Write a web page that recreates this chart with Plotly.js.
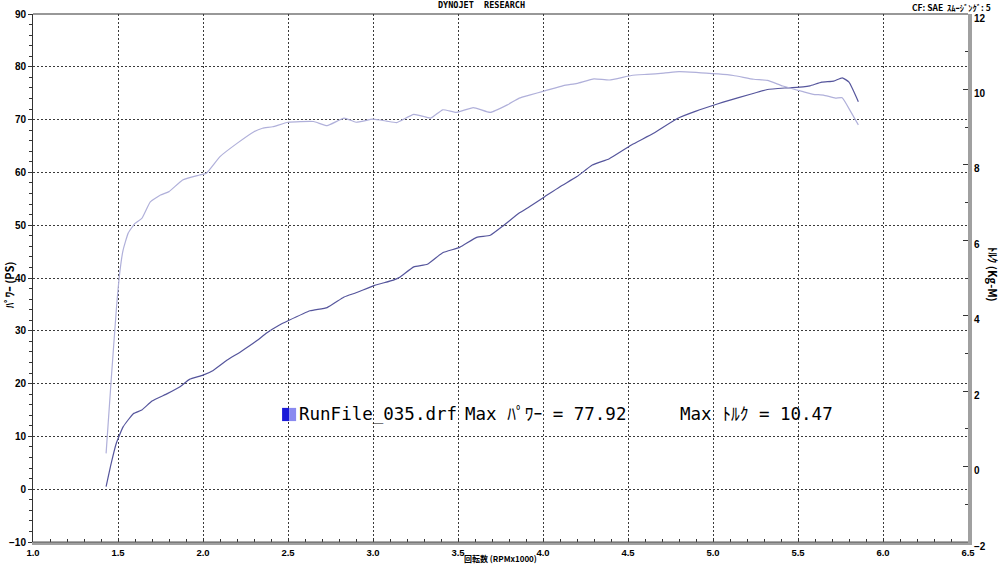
<!DOCTYPE html>
<html>
<head>
<meta charset="utf-8">
<script src="https://cdn.plot.ly/plotly-3.0.1.min.js"></script>
<style>html,body{margin:0;padding:0;background:#fff;}#chart{width:1000px;height:564px;}</style>
</head>
<body>
<div id="chart"></div>
<script>
// Power (PS) curve, left axis
const powerRpm = [1.43,1.46,1.49,1.53,1.59,1.64,1.70,1.79,1.865,1.92,2.00,2.06,2.14,2.22,2.32,2.37,2.45,2.50,2.63,2.73,2.83,2.90,3.01,3.12,3.16,3.24,3.32,3.41,3.51,3.61,3.69,3.77,3.86,3.92,4.01,4.10,4.20,4.29,4.39,4.52,4.65,4.79,4.90,5.03,5.08,5.22,5.32,5.43,5.53,5.57,5.64,5.71,5.76,5.80,5.855];
const powerPS = [0.5,4.9,8.7,11.8,14.3,15.0,16.7,18.1,19.4,20.8,21.6,22.5,24.4,26.0,28.2,29.5,31.1,31.9,33.8,34.4,36.4,37.2,38.6,39.6,40.2,42.1,42.6,44.8,45.8,47.7,48.1,50.0,52.3,53.5,55.4,57.3,59.2,61.4,62.6,65.2,67.4,70.2,71.6,73.0,73.5,74.8,75.7,76.0,76.2,76.4,77.1,77.3,77.92,77.1,73.4];
// Torque (Kg-M) curve, right axis
const torqueRpm = [1.43,1.46,1.49,1.51,1.53,1.56,1.60,1.64,1.69,1.75,1.80,1.88,1.98,2.02,2.10,2.20,2.30,2.35,2.41,2.50,2.65,2.73,2.83,2.90,3.00,3.08,3.14,3.24,3.34,3.41,3.49,3.59,3.69,3.79,3.86,3.92,4.01,4.12,4.20,4.30,4.39,4.52,4.61,4.71,4.80,4.90,4.96,5.03,5.12,5.24,5.32,5.41,5.53,5.59,5.65,5.72,5.76,5.81,5.855];
const torqueKgM = [0.35,2.30,4.15,5.13,5.74,6.19,6.45,6.58,7.02,7.20,7.29,7.60,7.73,7.78,8.22,8.57,8.88,8.97,9.01,9.13,9.15,9.04,9.24,9.13,9.21,9.16,9.12,9.34,9.24,9.46,9.39,9.52,9.39,9.59,9.77,9.85,9.96,10.10,10.16,10.28,10.25,10.37,10.40,10.43,10.47,10.45,10.43,10.41,10.37,10.27,10.24,10.09,9.94,9.87,9.85,9.77,9.78,9.41,9.06];

const runFile = "RunFile_035.drf";
const maxPower = 77.92;
const maxTorque = 10.47;
const xTickVals = [1.0,1.5,2.0,2.5,3.0,3.5,4.0,4.5,5.0,5.5,6.0,6.5];
const xTickText = ["1.0","1.5","2.0","2.5","3.0","3.5","4.0","4.5","5.0","5.5","6.0","6.5"];

const tickFont = {family: "Liberation Sans, Arial, sans-serif", size: 10, color: "#000", weight: "bold"};
const xTickFont = {family: "Liberation Sans, Arial, sans-serif", size: 9.5, color: "#000", weight: "bold"};
const jpFont = "Noto Sans CJK JP, sans-serif";
const monoJp = "DejaVu Sans Mono, Noto Sans CJK JP, monospace";
const gridDash = "2px,2px";

const traces = [
  {x: powerRpm, y: powerPS, type: "scatter", mode: "lines", yaxis: "y",
   line: {color: "#55559c", width: 1.2, shape: "spline", smoothing: 0.4}, hoverinfo: "skip"},
  {x: torqueRpm, y: torqueKgM, type: "scatter", mode: "lines", yaxis: "y2",
   line: {color: "#b0b0da", width: 1.2, shape: "spline", smoothing: 0.4}, hoverinfo: "skip"}
];

const layout = {
  width: 1000, height: 564,
  margin: {l: 33, r: 32, t: 14, b: 22},
  paper_bgcolor: "#fff", plot_bgcolor: "#fff",
  showlegend: false,
  xaxis: {
    range: [1.0, 6.5], tickvals: xTickVals, ticktext: xTickText,
    showgrid: true, gridcolor: "#3a3a3a", gridwidth: 1, griddash: gridDash,
    zeroline: false, showline: true, linecolor: "#a0a0a0", linewidth: 3,
    ticks: "inside", ticklen: 4, tickcolor: "#333", tickfont: xTickFont,
    minor: {dtick: 0.1, tick0: 1.0, ticks: "inside", ticklen: 3, tickcolor: "#333", showgrid: false},
    fixedrange: true
  },
  yaxis: {
    range: [-10, 90], dtick: 10, tick0: 0,
    showgrid: true, gridcolor: "#3a3a3a", gridwidth: 1, griddash: gridDash,
    zeroline: false, showline: true, linecolor: "#333", linewidth: 1,
    ticks: "outside", ticklen: 4, tickcolor: "#333", tickfont: tickFont,
    minor: {dtick: 2, tick0: 0, ticks: "outside", ticklen: 3, tickcolor: "#333", showgrid: false},
    fixedrange: true
  },
  yaxis2: {
    range: [-2, 12], dtick: 2, tick0: 0, overlaying: "y", side: "right",
    showgrid: false, zeroline: false, showline: true, linecolor: "#a0a0a0", linewidth: 4,
    ticks: "inside", ticklen: 5, tickcolor: "#333", tickfont: tickFont, ticklabelshift: 4,
    minor: {dtick: 1, tick0: 0, ticks: "inside", ticklen: 3, tickcolor: "#333", showgrid: false},
    fixedrange: true
  },
  yaxis3: {
    range: [-10, 90], dtick: 10, tick0: 0, overlaying: "y", side: "left",
    showgrid: false, zeroline: false, showline: false, showticklabels: false,
    ticks: "inside", ticklen: 4, tickcolor: "#333",
    minor: {dtick: 2, tick0: 0, ticks: "inside", ticklen: 3, tickcolor: "#333", showgrid: false},
    fixedrange: true
  },
  shapes: [
    {type: "line", xref: "paper", yref: "paper", x0: 0, x1: 1, y0: 1, y1: 1, line: {color: "#333", width: 1.2}},
    {type: "line", xref: "paper", yref: "paper", x0: 0, x1: 1, y0: 0, y1: 0, line: {color: "#555", width: 1}},
    {type: "rect", xref: "paper", yref: "paper", x0: 0.2664, x1: 0.2739, y0: 0.229, y1: 0.254, fillcolor: "#1a1ad8", line: {width: 0}},
    {type: "rect", xref: "paper", yref: "paper", x0: 0.2739, x1: 0.2814, y0: 0.229, y1: 0.254, fillcolor: "#8a8af0", line: {width: 0}}
  ],
  annotations: [
    {text: "DYNOJET  RESEARCH", xref: "paper", yref: "paper", x: 0.480, y: 1.0165, xanchor: "center", yanchor: "middle",
     showarrow: false, font: {family: "DejaVu Sans Mono, monospace", size: 8.5, color: "#000", weight: "bold"}},
    {text: "CF: SAE  ｽﾑｰｼﾞﾝｸﾞ: 5", xref: "paper", yref: "paper", x: 1.0257, y: 1.0265, xanchor: "right", yanchor: "top",
     borderpad: 0, showarrow: false, font: {family: jpFont, size: 8.5, color: "#000", weight: "bold"}},
    {text: "ﾊﾟﾜｰ (PS)", xref: "paper", yref: "paper", x: -0.0262, y: 0.487, xanchor: "center", yanchor: "middle",
     textangle: -90, showarrow: false, font: {family: jpFont, size: 11, color: "#000", weight: "bold"}},
    {text: "ﾄﾙｸ (Kg-M)", xref: "paper", yref: "paper", x: 1.0267, y: 0.506, xanchor: "center", yanchor: "middle",
     textangle: 90, showarrow: false, font: {family: jpFont, size: 11, color: "#000", weight: "bold"}},
    {text: "回転数 (RPMx1000)", xref: "paper", yref: "paper", x: 0.4995, y: -0.0305, xanchor: "center", yanchor: "middle",
     showarrow: false, font: {family: jpFont, size: 8, color: "#000", weight: "bold"}},
    {text: runFile, xref: "paper", yref: "paper", x: 0.2825, y: 0.2424, xanchor: "left", yanchor: "middle",
     showarrow: false, font: {family: monoJp, size: 17.5, color: "#000"}},
    {text: "Max ﾊﾟﾜｰ = " + maxPower.toFixed(2), xref: "paper", yref: "paper", x: 0.4599, y: 0.2424, xanchor: "left", yanchor: "middle",
     showarrow: false, font: {family: monoJp, size: 17.5, color: "#000"}},
    {text: "Max ﾄﾙｸ = " + maxTorque.toFixed(2), xref: "paper", yref: "paper", x: 0.6900, y: 0.2424, xanchor: "left", yanchor: "middle",
     showarrow: false, font: {family: monoJp, size: 17.5, color: "#000"}}
  ]
};

Plotly.newPlot("chart", traces, layout, {staticPlot: true, displayModeBar: false});
</script>
</body>
</html>
